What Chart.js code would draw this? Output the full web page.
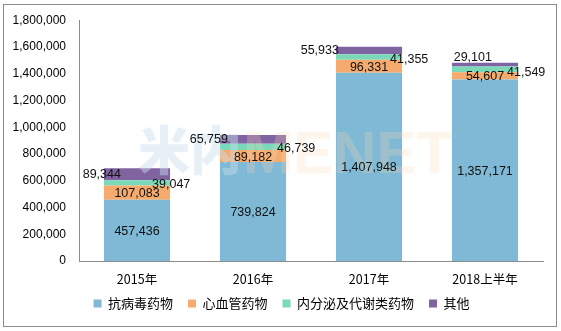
<!DOCTYPE html>
<html>
<head>
<meta charset="utf-8">
<script src="https://cdn.jsdelivr.net/npm/chart.js@4"></script>
<style>
  html, body { margin: 0; padding: 0; background: #fff; }
  #wrap { width: 561px; height: 331px; }
</style>
</head>
<body>
<div id="wrap"><canvas id="drugChart" width="561" height="331"></canvas></div>
<script>
// chart data
const categories = ['2015年', '2016年', '2017年', '2018上半年'];
const seriesNames = ['抗病毒药物', '心血管药物', '内分泌及代谢类药物', '其他'];
const antiviral = [457436, 739824, 1407948, 1357171];
const cardio = [107083, 89182, 96331, 54607];
const endocrine = [39047, 46739, 41355, 41549];
const others = [89344, 65759, 55933, 29101];
const yTicks = [0, 200000, 400000, 600000, 800000, 1000000, 1200000, 1400000, 1600000, 1800000];

const colors = ['#7fb9d5', '#f5ab6d', '#79d9b8', '#8064a2'];
const fontNum = '"Liberation Sans", Arial, sans-serif';
const fontCjk = '"Noto Sans CJK SC", "Liberation Sans", sans-serif';

// where the "其他" / endocrine labels sit, relative to their bar
const otherLabelPos = [{dx: 17, dy: 0}, {dx: 8, dy: 0}, {dx: 3, dy: 0}, {dx: 40, dy: -7}];
const endoLabelPos = [{dx: -18, dy: 2}, {dx: -9, dy: 2}, {dx: -12, dy: 3}, {dx: -11, dy: 3}];

function fmt(v) {
    return v.toLocaleString('en-US');
}

const frame = {
    id: 'frame',
    beforeDraw(chart) {
        const ctx = chart.ctx;
        ctx.save();
        ctx.strokeStyle = '#8c8c8c';
        ctx.lineWidth = 1;
        ctx.strokeRect(3.5, 4.5, 553, 322);
        ctx.restore();
    }
};

// x axis is squeezed so the legend sits close; let its labels spill below
// and nudge the legend a bit to the right like the original
const tweakLayout = {
    id: 'tweakLayout',
    afterLayout(chart) {
        chart.scales.x.bottom += 16;
        chart.legend.left += 7;
        chart.legend.right += 7;
    }
};

const watermark = {
    id: 'watermark',
    afterDatasetsDraw(chart) {
        const ctx = chart.ctx;
        ctx.save();
        ctx.textBaseline = 'alphabetic';
        ctx.fillStyle = 'rgba(200, 222, 235, 0.45)';
        ctx.font = '900 52px "Noto Sans CJK SC", sans-serif';
        ctx.fillText('米内', 138, 170);
        ctx.font = 'bold 60px "Liberation Sans", Arial, sans-serif';
        ctx.fillStyle = 'rgba(252, 215, 185, 0.25)';
        ctx.fillText('MENET', 243, 173);
        ctx.restore();
    }
};

const valueLabels = {
    id: 'valueLabels',
    afterDatasetsDraw(chart) {
        const ctx = chart.ctx;
        ctx.save();
        ctx.font = '12.5px ' + fontNum;
        ctx.fillStyle = '#111';
        ctx.textBaseline = 'middle';
        chart.data.datasets.forEach((ds, i) => {
            const meta = chart.getDatasetMeta(i);
            meta.data.forEach((bar, j) => {
                const text = fmt(ds.data[j]);
                const cy = (bar.y + bar.base) / 2;
                const left = bar.x - bar.width / 2;
                const right = bar.x + bar.width / 2;
                if (i < 2) {
                    ctx.textAlign = 'center';
                    ctx.fillText(text, bar.x, cy + 1);
                } else if (i === 2) {
                    ctx.textAlign = 'left';
                    ctx.fillText(text, right + endoLabelPos[j].dx, cy + endoLabelPos[j].dy);
                } else {
                    ctx.textAlign = 'right';
                    ctx.fillText(text, left + otherLabelPos[j].dx, cy + otherLabelPos[j].dy);
                }
            });
        });
        ctx.restore();
    }
};

const seriesData = [antiviral, cardio, endocrine, others];

new Chart(document.getElementById('drugChart'), {
    type: 'bar',
    data: {
        labels: categories,
        datasets: seriesNames.map((name, i) => ({
            label: name,
            data: seriesData[i],
            backgroundColor: colors[i],
            borderWidth: 0,
            barPercentage: 0.57,
            categoryPercentage: 1
        }))
    },
    options: {
        responsive: false,
        animation: false,
        layout: { padding: { left: 6, right: 18, top: 12, bottom: 11 } },
        plugins: {
            legend: {
                position: 'bottom',
                labels: {
                    boxWidth: 8,
                    boxHeight: 8,
                    padding: 15,
                    color: '#000',
                    font: { family: fontCjk, size: 13 }
                }
            },
            tooltip: { enabled: false }
        },
        scales: {
            x: {
                stacked: true,
                grid: { display: false, drawTicks: false },
                border: { color: '#8c8c8c' },
                afterFit(scale) {
                    scale.height = 21;
                },
                ticks: { color: '#000', font: { family: fontCjk, size: 12.5 }, padding: 11 }
            },
            y: {
                stacked: true,
                min: 0,
                max: 1800000,
                grid: { display: false, drawTicks: false },
                border: { color: '#8c8c8c' },
                afterBuildTicks(scale) {
                    scale.ticks = yTicks.map(v => ({ value: v }));
                },
                afterFit(scale) {
                    scale.width = 73;
                },
                ticks: {
                    color: '#000',
                    padding: 13,
                    font: { family: fontNum, size: 12 },
                    callback: v => fmt(v)
                }
            }
        }
    },
    plugins: [frame, tweakLayout, watermark, valueLabels]
});
</script>
</body>
</html>
